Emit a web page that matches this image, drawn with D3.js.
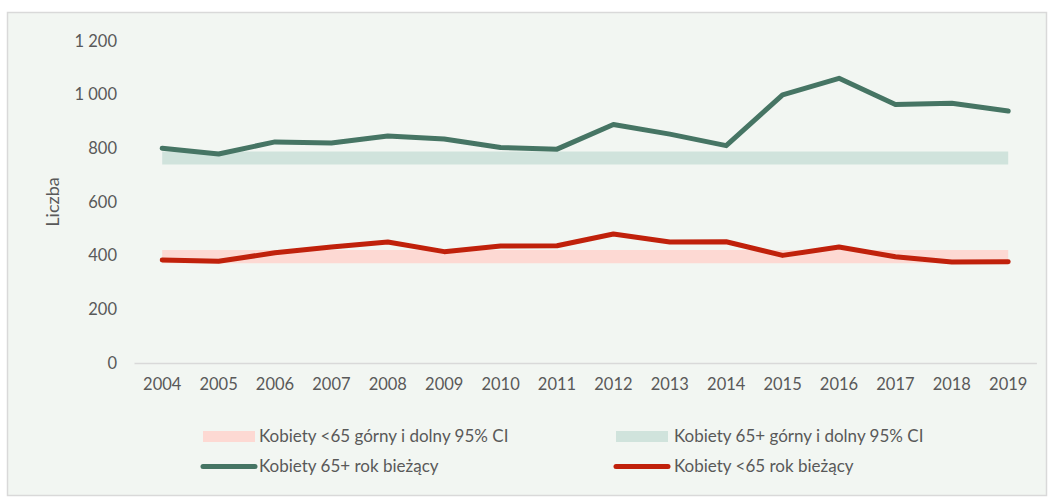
<!DOCTYPE html>
<html><head><meta charset="utf-8">
<script src="https://cdn.jsdelivr.net/npm/d3@7"></script>
<style>
html,body{margin:0;padding:0;background:#fff;}
svg{display:block;font-family:Lato,"Open Sans",sans-serif;}
</style></head>
<body>
<svg id="chart" width="1054" height="499"></svg>
<script>
const years = ["2004","2005","2006","2007","2008","2009","2010","2011","2012","2013","2014","2015","2016","2017","2018","2019"];
const women65plus = [800,779,824,820,846,835,803,797,889,853,810,999,1061,963,968,939];
const womenUnder65 = [384,379,411,432,451,415,436,437,481,451,452,401,432,396,376,377];
const ci65Lower = [740,740,740,740,740,740,740,740,740,740,740,740,740,740,740,740];
const ci65Upper = [788,788,788,788,788,788,788,788,788,788,788,788,788,788,788,788];
const ciU65Lower = [372,372,372,372,372,372,372,372,372,372,372,372,372,372,372,372];
const ciU65Upper = [421,421,421,421,421,421,421,421,421,421,421,421,421,421,421,421];
const yTicks = [0,200,400,600,800,1000,1200];
const yLabel = "Liczba";
const legendLabels = ["Kobiety <65 górny i dolny 95% CI","Kobiety 65+ górny i dolny 95% CI","Kobiety 65+ rok bieżący","Kobiety <65 rok bieżący"];

const C = {bg:"#f2f6f2", border:"#d9d9d9", text:"#595959", green:"#467564", red:"#c0210b", greenBand:"#d0e3dc", redBand:"#fdd9d3", axis:"#d9d9d9"};

const svg = d3.select("#chart");
svg.append("rect").attr("x",7.5).attr("y",12.5).attr("width",1039).attr("height",483)
  .attr("fill",C.bg).attr("stroke",C.border).attr("stroke-width",1.5);

const x = d3.scaleBand().domain(years).range([134,1036.4]);
const y = d3.scaleLinear().domain([0,1200]).range([363,41]);
const cx = d => x(d) + x.bandwidth()/2;

// y tick labels
const yAxis = d3.axisLeft(y).tickValues(yTicks).tickSize(0).tickPadding(0)
  .tickFormat(d => d3.format(",")(d).replace(/,/g," "));
const gy = svg.append("g").attr("transform","translate(117,0)").call(yAxis);
gy.select(".domain").remove();
gy.selectAll("text").attr("fill",C.text).style("font-size","16.5px").style("font-family","Lato,sans-serif");

// x axis
const xAxis = d3.axisBottom(x).tickSize(0).tickPadding(15);
const gx = svg.append("g").attr("transform","translate(0,363)").call(xAxis);
gx.select(".domain").attr("stroke",C.axis).attr("stroke-width",1.5);
gx.selectAll("text").attr("fill",C.text).style("font-size","16.5px").style("font-family","Lato,sans-serif");

// y label
svg.append("text").attr("transform","translate(59,202) rotate(-90)").attr("text-anchor","middle")
  .attr("fill",C.text).style("font-size","18px").text(yLabel);

// CI bands
const area = (lo,hi) => d3.area().x((d,i)=>cx(years[i])).y0((d,i)=>y(lo[i])).y1((d,i)=>y(hi[i]));
svg.append("path").datum(years).attr("d",area(ci65Lower,ci65Upper)).attr("fill",C.greenBand);
svg.append("path").datum(years).attr("d",area(ciU65Lower,ciU65Upper)).attr("fill",C.redBand);

// lines
const line = vals => d3.line().x((d,i)=>cx(years[i])).y((d,i)=>y(vals[i]));
svg.append("path").datum(years).attr("d",line(women65plus)).attr("fill","none")
  .attr("stroke",C.green).attr("stroke-width",5).attr("stroke-linecap","round").attr("stroke-linejoin","round");
svg.append("path").datum(years).attr("d",line(womenUnder65)).attr("fill","none")
  .attr("stroke",C.red).attr("stroke-width",5).attr("stroke-linecap","round").attr("stroke-linejoin","round");

// legend
const leg = [
  {x:203, y:436.5, tx:259, type:"rect", color:C.redBand, label:legendLabels[0]},
  {x:616, y:436.5, tx:674, type:"rect", color:C.greenBand, label:legendLabels[1]},
  {x:203, y:466.5, tx:259, type:"line", color:C.green, label:legendLabels[2]},
  {x:616, y:466.5, tx:674, type:"line", color:C.red, label:legendLabels[3]},
];
leg.forEach(l => {
  const g = svg.append("g");
  if (l.type==="rect") {
    g.append("rect").attr("x",l.x).attr("y",l.y-5.5).attr("width",52).attr("height",11).attr("fill",l.color);
  } else {
    g.append("line").attr("x1",l.x).attr("x2",l.x+52).attr("y1",l.y).attr("y2",l.y)
      .attr("stroke",l.color).attr("stroke-width",5).attr("stroke-linecap","round");
  }
  g.append("text").attr("x",l.tx).attr("y",l.y).attr("dy","0.35em").attr("fill",C.text)
    .style("font-size","17px").text(l.label);
});
</script>
</body></html>
